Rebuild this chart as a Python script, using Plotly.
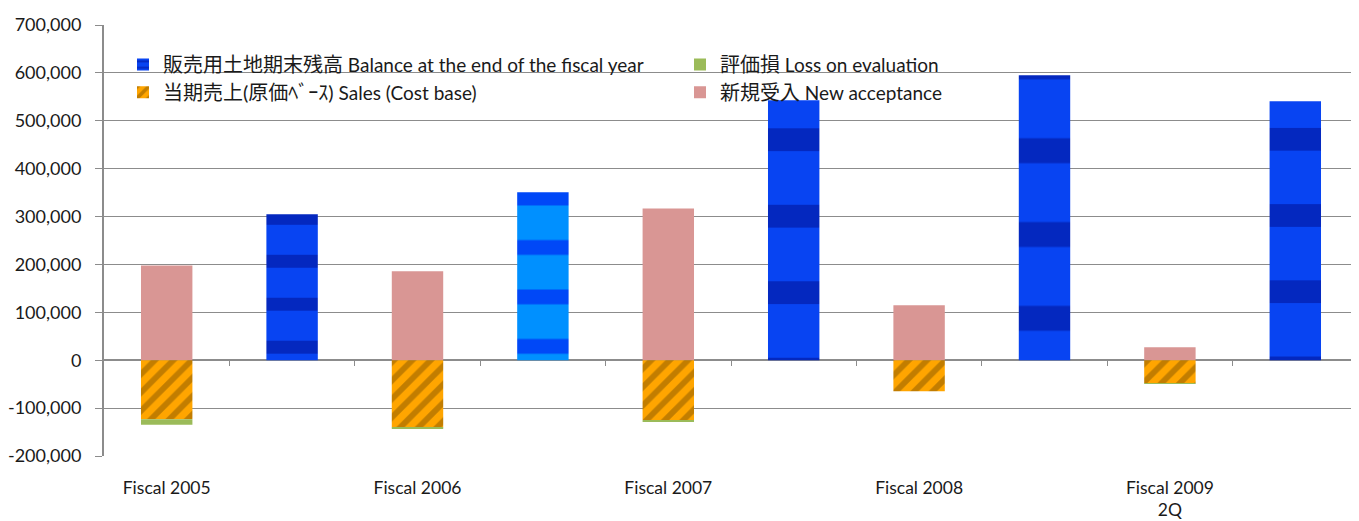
import plotly.graph_objects as go

# ---- data ----
years = ["Fiscal 2005", "Fiscal 2006", "Fiscal 2007", "Fiscal 2008", "Fiscal 2009<br>2Q"]
new_acceptance = [198000, 186000, 317000, 115000, 27000]
sales_cost = [-123000, -140000, -125000, -65000, -48000]
loss_eval = [-12000, -3000, -3000, 0, -1000]
balance = [305000, 351000, 543000, 595000, 541000]
y_ticks = [-200000, -100000, 0, 100000, 200000, 300000, 400000, 500000, 600000, 700000]
y_ticktext = ["-200,000", "-100,000", "0", "100,000", "200,000", "300,000",
              "400,000", "500,000", "600,000", "700,000"]

name_balance = "<span style='font-size:20px'>販売用土地期末残高</span> Balance at the end of the fiscal year"
name_loss = "<span style='font-size:20px'>評価損</span> Loss on evaluation"
name_sales = "<span style='font-size:20px'>当期売上(原価ﾍﾞｰｽ)</span> Sales (Cost base)"
name_new = "<span style='font-size:20px'>新規受入</span> New acceptance"

# slot positions: flow bars in even slots, balance bars in odd slots
flow_x = [2 * i for i in range(len(years))]
bal_x = [2 * i + 1 for i in range(len(years))]

FONT = "Lato, 'Noto Sans CJK JP', sans-serif"
GRID = "#8c8c8c"
BW = 0.41

# page body has an 8px margin: shrink figure so it ends at the window edge
OFF = 8
W, H = 1359 - OFF, 521 - OFF
ML, MR, MT, MB = 104 - OFF, 1, 25 - OFF, 65
plot_w = W - ML - MR

# stripe period for the blue bars scales with bar height (approximate gradient look)
px_per_unit = 431 / 900000
bal_fg = ["#000c8c", "#0000f0", "#000c8c", "#000c8c", "#000c8c"]
bal_bg = ["#0844f2", "#0090ff", "#0844f2", "#0844f2", "#0844f2"]
bal_size = [max(20, v * px_per_unit / 3.4) for v in balance]

fig = go.Figure()
fig.add_trace(go.Bar(
    x=bal_x, y=balance, name=name_balance, width=BW, legendrank=1,
    marker=dict(color="#0844f2", line=dict(width=0),
                pattern=dict(shape="-", fgcolor=bal_fg, bgcolor=bal_bg,
                             size=bal_size, solidity=0.3)),
))
fig.add_trace(go.Bar(
    x=flow_x, y=new_acceptance, name=name_new, width=BW, legendrank=4,
    marker=dict(color="#d99694", line=dict(width=0)),
))
fig.add_trace(go.Bar(
    x=flow_x, y=sales_cost, name=name_sales, width=BW, legendrank=3,
    marker=dict(color="#ffa500", line=dict(width=0),
                pattern=dict(shape="/", fgcolor="#855600", size=13, solidity=0.45)),
))
fig.add_trace(go.Bar(
    x=flow_x, y=loss_eval, name=name_loss, width=BW, legendrank=2,
    marker=dict(color="#9bbb59", line=dict(width=0)),
))

fig.update_layout(
    width=W, height=H,
    barmode="relative",
    plot_bgcolor="white", paper_bgcolor="white",
    margin=dict(l=ML, r=MR, t=MT, b=MB),
    font=dict(family=FONT, size=18, color="#1a1a1a"),
    showlegend=True,
    legend=dict(orientation="h", x=(147 - 104 - 24) / plot_w, y=0.952,
                xanchor="left", yanchor="top",
                entrywidth=512, entrywidthmode="pixels", bgcolor="rgba(0,0,0,0)",
                font=dict(family=FONT, size=19, color="#1a1a1a"),
                traceorder="normal", tracegroupgap=0, itemclick=False),
    xaxis=dict(range=[-0.5, 9.5], tickmode="array", tickvals=flow_x, ticktext=years,
               ticks="", showgrid=False, showline=False, zeroline=False,
               ticklabelstandoff=19, tickfont=dict(size=17.5)),
    xaxis2=dict(range=[-0.5, 9.5], overlaying="x", anchor="free", position=2 / 9,
                side="bottom", tickmode="array",
                tickvals=[i + 0.5 for i in range(10)],
                ticks="outside", ticklen=5, tickcolor=GRID, tickwidth=1,
                showticklabels=False, showgrid=False, showline=False, zeroline=False),
    yaxis=dict(range=[-200000, 700000], tickmode="array", tickvals=y_ticks,
               ticktext=y_ticktext, showgrid=True, gridcolor=GRID, gridwidth=1,
               showline=True, linecolor=GRID, linewidth=2, ticks="outside",
               ticklen=7, tickcolor=GRID, zeroline=True, zerolinecolor=GRID,
               zerolinewidth=2, tickfont=dict(size=18), ticklabelstandoff=10),
)
# invisible trace so xaxis2 is drawn
fig.add_trace(go.Scatter(x=[0], y=[0], xaxis="x2", mode="markers",
                         marker=dict(opacity=0), showlegend=False, hoverinfo="skip"))

fig.write_html("out.html")
